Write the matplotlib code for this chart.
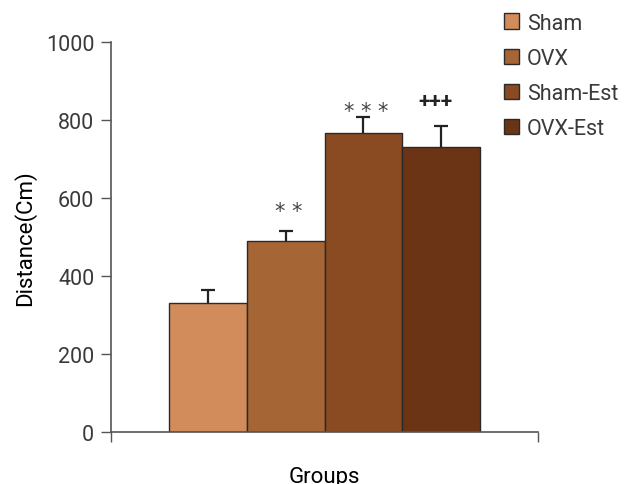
import matplotlib.pyplot as plt
from matplotlib.patches import Patch

plt.rcParams['font.family'] = ['Roboto', 'DejaVu Sans']

groups = ['Sham', 'OVX', 'Sham-Est', 'OVX-Est']
distance = [331, 490, 767, 731]
sem = [33, 26, 42, 53]
marks = ['', '**', '***', '+++']
colors = ['#D28C5C', '#A66535', '#8A4B22', '#6A3415']

fig = plt.figure(figsize=(6.25, 4.85), dpi=100)
ax = fig.add_axes([0.1776, 0.1072, 0.6832, 0.8041])

x = list(range(len(groups)))
ax.bar(x, distance, width=1.0, color=colors, edgecolor='#2a2a2a', linewidth=1.0,
       zorder=2)

# upper half of the error bars only, with a cap on top
tops = [d + e for d, e in zip(distance, sem)]
ax.vlines(x, distance, tops, color='#222222', linewidth=1.6, zorder=3)
ax.hlines(tops, [xi - 0.09 for xi in x], [xi + 0.09 for xi in x],
          color='#222222', linewidth=1.6, zorder=3)

# gap (points) between cap and significance mark
gaps = {'**': 7, '***': -3, '+++': 12}
for xi, t, m in zip(x, tops, marks):
    if not m:
        continue
    if m.startswith('+'):
        ax.annotate(m, (xi, t), xytext=(-4, gaps[m]), textcoords='offset points',
                    ha='center', va='bottom', fontsize=15, color='#222222',
                    fontweight='bold')
    else:
        ax.annotate(' '.join(m), (xi, t), xytext=(2, gaps[m]),
                    textcoords='offset points', ha='center', va='bottom',
                    fontsize=15, color='#444444', family=['DejaVu Sans'])

ax.set_xlim(-1.244, 4.244)
ax.set_ylim(0, 1000)
ax.set_yticks([0, 200, 400, 600, 800, 1000])
ax.set_xticks([-1.244, 4.244])
ax.set_xticklabels(['', ''])
ax.tick_params(axis='y', direction='out', length=7, width=1, color='#555555',
               labelsize=15.5, labelcolor='#3a3a3a', pad=5)
ax.tick_params(axis='x', direction='out', length=7, width=1, color='#555555')

for side in ['top', 'right']:
    ax.spines[side].set_visible(False)
for side in ['left', 'bottom']:
    ax.spines[side].set_color('#555555')
    ax.spines[side].set_linewidth(1.2)

ax.set_ylabel('Distance(Cm)', fontsize=16, labelpad=7)
ax.set_xlabel('Groups', fontsize=16, labelpad=14)

handles = [Patch(facecolor=c, edgecolor='#2a2a2a', linewidth=1.0) for c in colors]
leg = fig.legend(handles, groups, loc='upper left', bbox_to_anchor=(0.776, 1.012),
                 frameon=False, fontsize=15.5, handlelength=0.7, handleheight=0.7,
                 handletextpad=0.35, labelspacing=0.66)
for t in leg.get_texts():
    t.set_color('#3a3a3a')

fig.savefig('out.png', dpi=100)
